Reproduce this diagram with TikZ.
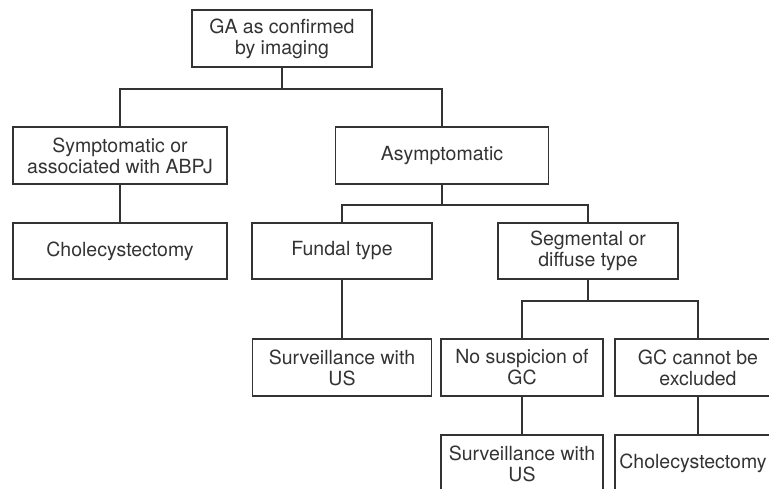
\documentclass[tikz,border=0pt]{standalone}
\usepackage{fontspec}
\setmainfont{TeX Gyre Heros}
\usetikzlibrary{calc}
\definecolor{ink}{gray}{0.2}
\begin{document}
\begin{tikzpicture}[x=1pt,y=-1pt,
  box/.style={draw=ink, line width=1.1pt, rectangle, inner sep=0pt, outer sep=0pt,
    text=ink, align=center, font=\fontsize{19.5}{21}\selectfont},
  conn/.style={draw=ink, line width=1.1pt}]
\useasboundingbox (0,0) rectangle (769,488);
\clip (0,0) rectangle (769,488);
\node[box, minimum width=180pt, minimum height=57pt] (top) at (282,38.5) {GA as confirmed\\by imaging};
\node[box, minimum width=214pt, minimum height=57pt] (sym) at (120,155.5) {Symptomatic or\\associated with ABPJ};
\node[box, minimum width=213pt, minimum height=57pt] (asym) at (442,155.5) {Asymptomatic};
\node[box, minimum width=214pt, minimum height=56pt] (chol1) at (120,251) {Cholecystectomy};
\node[box, minimum width=180pt, minimum height=56pt] (fund) at (342,251) {Fundal type};
\node[box, minimum width=180pt, minimum height=56pt] (seg) at (588,251) {Segmental or\\diffuse type};
\node[box, minimum width=179pt, minimum height=57pt] (surv1) at (342,367.5) {Surveillance with\\US};
\node[box, minimum width=162pt, minimum height=57pt] (nosus) at (522,367.5) {No suspicion of\\GC};
\node[box, minimum width=166pt, minimum height=57pt] (gc) at (698,367.5) {GC cannot be\\excluded};
\node[box, minimum width=162pt, minimum height=57pt] (surv2) at (522,463.5) {Surveillance with\\US};
\node[box, minimum width=166pt, minimum height=57pt] (chol2) at (698,463.5) {\hspace*{-10pt}Cholecystectomy};
\coordinate (j1) at ($(top.south)+(0,22)$);
\draw[conn] (top.south) -- (j1) -| (sym.north);
\draw[conn] (j1) -| (asym.north);
\draw[conn] (sym.south) -- (chol1.north);
\coordinate (j2) at ($(asym.south)+(0,21)$);
\draw[conn] (asym.south) -- (j2) -| (fund.north);
\draw[conn] (j2) -| (seg.north);
\draw[conn] (fund.south) -- (surv1.north);
\coordinate (j3) at ($(seg.south)+(0,22)$);
\draw[conn] (seg.south) -- (j3) -| (nosus.north);
\draw[conn] (j3) -| (gc.north);
\draw[conn] (nosus.south) -- (surv2.north);
\draw[conn] (gc.south) -- (chol2.north);
\end{tikzpicture}
\end{document}
